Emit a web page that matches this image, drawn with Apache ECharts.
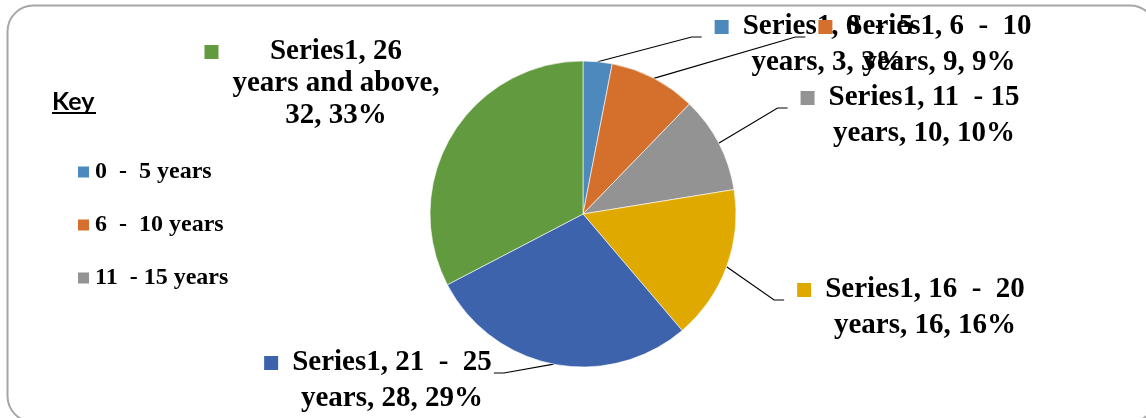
<!DOCTYPE html>
<html>
<head>
<meta charset="utf-8">
<script src="https://cdn.jsdelivr.net/npm/echarts@6/dist/echarts.min.js"></script>
<style>
  html, body { margin: 0; padding: 0; background: #fff; }
  #chart { width: 1146px; height: 418px; }
</style>
</head>
<body>
<div id="chart"></div>
<script>
// data
const categories = ['0  -  5 years', '6  -  10 years', '11  - 15 years', '16  -  20 years', '21  -  25 years', '26 years and above'];
const values = [3, 9, 10, 16, 28, 32];
const legendNames = categories.slice(0, 3); // only three keys are visible in the original

const sliceColors = ['#4E89BE', '#D4702C', '#939393', '#E0A900', '#3D63AC', '#629A3F'];
// label placement: [text centre x, top y], one per slice
const labelAnchors = [[828, 9], [939, 9], [924, 80], [925, 272], [392, 345], [336, 36]];

const SERIF = '"Liberation Serif", "Times New Roman", serif';
const KEY_W = 14, KEY_GAP = 14;

const rich = {
  sp: { width: KEY_W, height: KEY_W },
  g: { width: KEY_GAP },
  t: { align: 'center' }
};
sliceColors.forEach((c, i) => {
  rich['sq' + i] = { width: KEY_W, height: KEY_W, backgroundColor: c };
});

const pieData = categories.map((name, i) => {
  const item = { name, value: values[i], itemStyle: { color: sliceColors[i] } };
  if (i === categories.length - 1) {
    item.labelLine = { show: false };
    item.label = { lineHeight: 32 };
  }
  return item;
});

const chart = echarts.init(document.getElementById('chart'), null, { renderer: 'canvas' });

chart.setOption({
  backgroundColor: '#fff',
  animation: false,
  graphic: [
    {
      type: 'rect',
      shape: { x: 7.5, y: 5.5, width: 1148.5, height: 416.5, r: 26 },
      style: { fill: 'none', stroke: '#A6A6A6', lineWidth: 2 },
      silent: true
    },
    {
      type: 'text',
      left: 52, top: 89,
      style: { text: 'Key', fontFamily: 'Lato, "Open Sans", sans-serif', fontWeight: 'bold', fontSize: 25, fill: '#000' }
    },
    {
      type: 'line',
      shape: { x1: 52, y1: 113, x2: 96, y2: 113 },
      style: { stroke: '#000', lineWidth: 2 }
    }
  ],
  legend: {
    data: legendNames,
    orient: 'vertical',
    left: 76,
    top: 160,
    padding: 0,
    itemWidth: 13,
    itemHeight: 13,
    itemGap: 29,
    icon: 'rect',
    selectedMode: false,
    textStyle: { fontFamily: SERIF, fontWeight: 'bold', fontSize: 24, color: '#000' }
  },
  series: [{
    type: 'pie',
    center: [583, 214],
    radius: 153,
    startAngle: 90,
    clockwise: true,
    percentPrecision: 0,
    avoidLabelOverlap: false,
    itemStyle: { borderColor: '#fff', borderWidth: 0.6 },
    label: {
      show: true,
      position: 'outside',
      color: '#000',
      fontFamily: SERIF,
      fontWeight: 'bold',
      fontSize: 29,
      lineHeight: 36,
      rich: rich,
      formatter: p => {
        const parts = p.name.split(' years');
        const tail = p.value + ', ' + p.percent + '%';
        const lines = ['Series1, ' + parts[0]];
        if (parts[1]) {
          lines.push('years' + parts[1] + ',');
          lines.push(tail);
        } else {
          lines.push('years, ' + tail);
        }
        return lines.map((l, i) => (i === 0 ? '{sq' + p.dataIndex + '|}' : '{sp|}') + '{g|}{t|' + l + '}').join('\n');
      }
    },
    labelLine: {
      show: true,
      length: 10,
      length2: 10,
      lineStyle: { color: '#000', width: 1.2 }
    },
    labelLayout: p => {
      const a = labelAnchors[p.dataIndex];
      const w = p.labelRect.width, h = p.labelRect.height;
      const x = a[0] - (w + KEY_W + KEY_GAP) / 2;
      const y = a[1];
      const res = { x: x, y: y, align: 'left', verticalAlign: 'top' };
      const pts = p.labelLinePoints;
      if (pts) {
        const start = pts[0];
        const midY = y + h / 2 - 8;
        if (x > start[0]) {
          const ex = x - 13;
          res.labelLinePoints = [start, [ex - 10, midY], [ex, midY]];
        } else {
          const ex = x + w + 2;
          res.labelLinePoints = [start, [ex + 10, midY], [ex, midY]];
        }
      }
      return res;
    },
    data: pieData
  }]
});
</script>
</body>
</html>
